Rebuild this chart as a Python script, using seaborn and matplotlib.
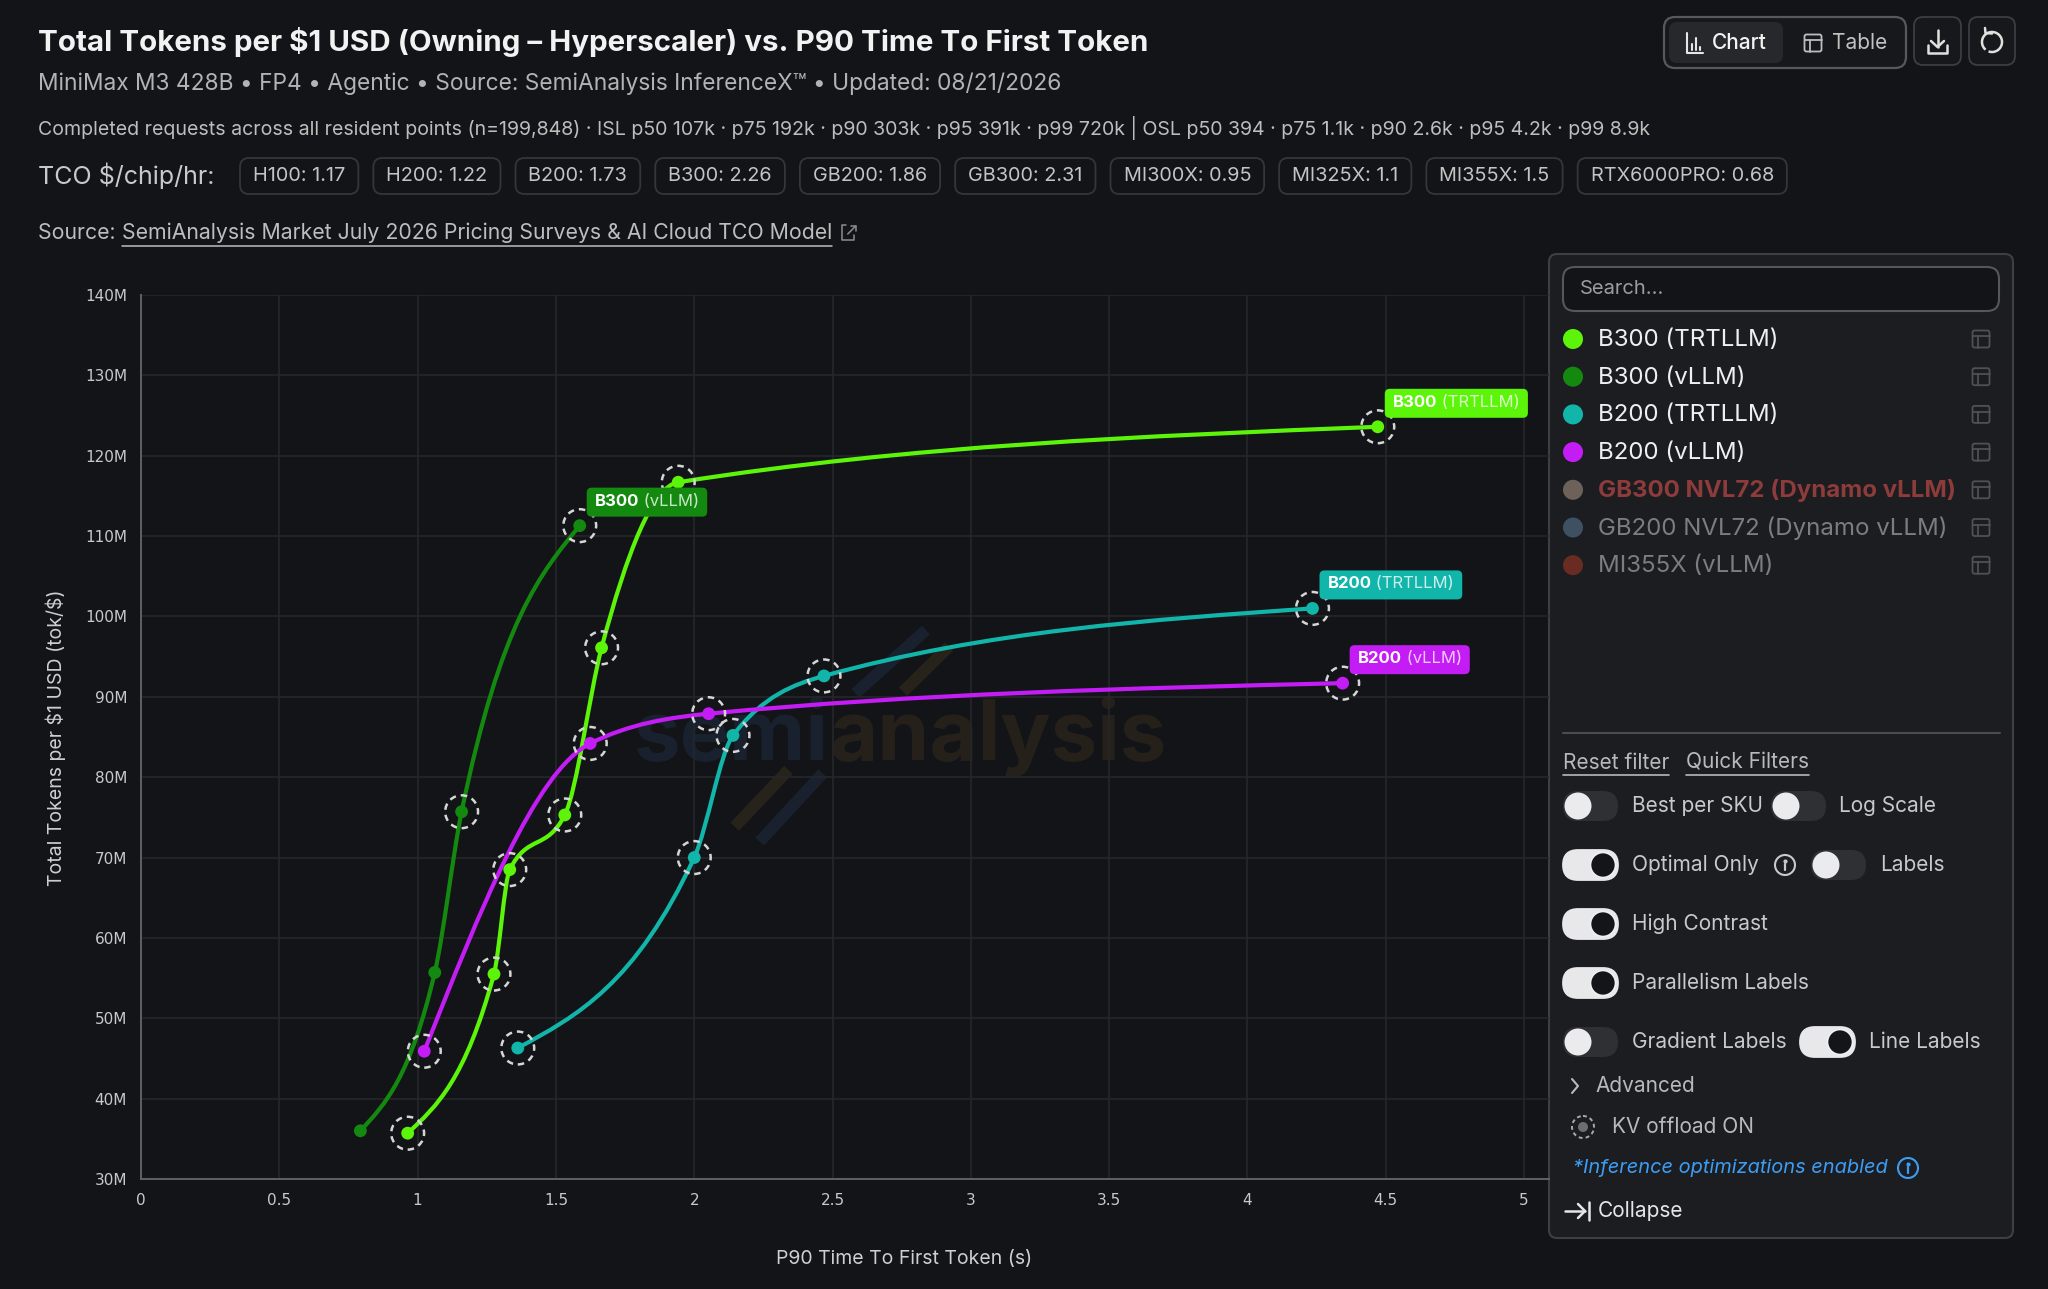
import numpy as np
import pandas as pd
import seaborn as sns
import matplotlib.pyplot as plt
from matplotlib.path import Path
from matplotlib.patches import PathPatch, FancyBboxPatch, Circle, Arc
from matplotlib.transforms import IdentityTransform
from matplotlib.ticker import FuncFormatter

# ---- values (x = P90 TTFT in s, y = tokens per $ in millions) ----
series_names = ["B300 (TRTLLM)", "B300 (vLLM)", "B200 (TRTLLM)", "B200 (vLLM)"]
series_colors = ["#5cf50a", "#138a0f", "#12b5a9", "#c41cf4"]

b300_trt_ttft = [0.964, 1.276, 1.333, 1.532, 1.665, 1.942, 4.471]
b300_trt_tok = [35.7, 55.5, 68.5, 75.3, 96.1, 116.7, 123.6]
b300_trt_kv = [1, 1, 1, 1, 1, 1, 1]

b300_vllm_ttft = [0.793, 1.062, 1.159, 1.586]
b300_vllm_tok = [36.0, 55.7, 75.7, 111.3]
b300_vllm_kv = [0, 0, 1, 1]

b200_trt_ttft = [1.362, 2.000, 2.140, 2.469, 4.235]
b200_trt_tok = [46.3, 70.0, 85.2, 92.6, 101.0]
b200_trt_kv = [1, 1, 1, 1, 1]

b200_vllm_ttft = [1.024, 1.624, 2.052, 4.344]
b200_vllm_tok = [45.9, 84.2, 87.9, 91.7]
b200_vllm_kv = [1, 1, 1, 1]

x_ticks = [0, 0.5, 1, 1.5, 2, 2.5, 3, 3.5, 4, 4.5, 5]
y_ticks = [30, 40, 50, 60, 70, 80, 90, 100, 110, 120, 130, 140]

tco_gpus = ["H100", "H200", "B200", "B300", "GB200", "GB300", "MI300X", "MI325X", "MI355X", "RTX6000PRO"]
tco_rates = [1.17, 1.22, 1.73, 2.26, 1.86, 2.31, 0.95, 1.1, 1.5, 0.68]

legend_names = series_names + ["GB300 NVL72 (Dynamo vLLM)", "GB200 NVL72 (Dynamo vLLM)", "MI355X (vLLM)"]
legend_dots = series_colors + ["#6d6259", "#3e5163", "#6a2b22"]
legend_text_colors = ["#efefef"] * 4 + ["#8e3b3b", "#7c7d80", "#7c7d80"]

title = "Total Tokens per $1 USD (Owning – Hyperscaler) vs. P90 Time To First Token"
subtitle = "MiniMax M3 428B • FP4 • Agentic • Source: SemiAnalysis InferenceX™ • Updated: 08/21/2026"
stats_line = ("Completed requests across all resident points (n=199,848) · ISL p50 107k · p75 192k · "
              "p90 303k · p95 391k · p99 720k | OSL p50 394 · p75 1.1k · p90 2.6k · p95 4.2k · p99 8.9k")

BG = "#131417"
PANEL = "#1c1d20"
W, H = 2048, 1289

sns.set_theme(style="dark", rc={
    "figure.facecolor": BG, "axes.facecolor": BG, "grid.color": "#25272b",
    "text.color": "#d0d0d0", "axes.labelcolor": "#cfcfcf",
    "xtick.color": "#c9c9c9", "ytick.color": "#c9c9c9",
})
plt.rcParams["font.family"] = ["Inter", "DejaVu Sans"]
plt.rcParams["text.parse_math"] = False

rows = []
for name, xs, ys, kv in [
    (series_names[0], b300_trt_ttft, b300_trt_tok, b300_trt_kv),
    (series_names[1], b300_vllm_ttft, b300_vllm_tok, b300_vllm_kv),
    (series_names[2], b200_trt_ttft, b200_trt_tok, b200_trt_kv),
    (series_names[3], b200_vllm_ttft, b200_vllm_tok, b200_vllm_kv),
]:
    for x, y, k in zip(xs, ys, kv):
        rows.append({"series": name, "ttft": x, "tok": y, "kv": k})
df = pd.DataFrame(rows)
palette = dict(zip(series_names, series_colors))


def monotone_path(xs, ys):
    # same shape as d3.curveMonotoneX: cubic bezier through the points
    xs = np.asarray(xs, float)
    ys = np.asarray(ys, float)
    n = len(xs)
    h = np.diff(xs)
    s = np.diff(ys) / h
    t = np.zeros(n)
    for i in range(1, n - 1):
        p = (s[i - 1] * h[i] + s[i] * h[i - 1]) / (h[i - 1] + h[i])
        t[i] = (np.sign(s[i - 1]) + np.sign(s[i])) * min(abs(s[i - 1]), abs(s[i]), 0.5 * abs(p))
    if n > 2:
        t[0] = (3 * s[0] - t[1]) / 2
        t[-1] = (3 * s[-1] - t[-2]) / 2
    else:
        t[:] = s[0]
    verts = [(xs[0], ys[0])]
    codes = [Path.MOVETO]
    for i in range(n - 1):
        dx = h[i] / 3
        verts += [(xs[i] + dx, ys[i] + dx * t[i]), (xs[i + 1] - dx, ys[i + 1] - dx * t[i + 1]), (xs[i + 1], ys[i + 1])]
        codes += [Path.CURVE4] * 3
    return Path(verts, codes)


fig = plt.figure(figsize=(W / 100, H / 100), dpi=100)
fig.patch.set_facecolor(BG)

ui = fig.add_axes([0, 0, 1, 1])
ui.set_xlim(0, W)
ui.set_ylim(H, 0)
ui.axis("off")
ui.set_zorder(0)

ax = fig.add_axes([141 / W, 1 - 1179 / H, (1549 - 141) / W, (1179 - 295) / H])
ax.set_zorder(2)
ax.patch.set_alpha(0)

# watermark
ax.text(0.4886, 0.474, "semi", transform=ax.transAxes, ha="right", va="baseline",
        fontsize=60, fontweight="bold", color="#19212e", zorder=0)
ax.text(0.4886, 0.474, "analysis", transform=ax.transAxes, ha="left", va="baseline",
        fontsize=60, fontweight="bold", color="#25211a", zorder=0)
for (x0, y0, x1, y1, c) in [(0.5074, 0.5494, 0.5575, 0.6210, "#19212e"), (0.5412, 0.5512, 0.5739, 0.6022, "#28231a"),
                            (0.4217, 0.3985, 0.4598, 0.4627, "#28231a"), (0.4394, 0.3816, 0.4842, 0.4589, "#19212e")]:
    ax.plot([x0, x1], [y0, y1], transform=ax.transAxes, color=c, lw=8.5, solid_capstyle="butt", zorder=0)

for name, color in zip(series_names, series_colors):
    sub = df[df.series == name]
    ax.add_patch(PathPatch(monotone_path(sub.ttft, sub.tok), fill=False, ec=color, lw=3.0,
                           capstyle="round", zorder=3))

sns.scatterplot(data=df, x="ttft", y="tok", hue="series", palette=palette, s=85,
                edgecolor="none", legend=False, ax=ax, zorder=5)
kv = df[df.kv == 1]
ax.scatter(kv.ttft, kv.tok, s=560, facecolors="none", edgecolors="#d6d6d6", linewidths=1.8,
           linestyles=(0, (2.6, 2.0)), zorder=6)

ax.set_xlim(0, 5.09)
ax.set_ylim(30, 140)
ax.set_xticks(x_ticks)
ax.set_yticks(y_ticks)
ax.xaxis.set_major_formatter(FuncFormatter(lambda v, p: f"{v:g}"))
ax.yaxis.set_major_formatter(FuncFormatter(lambda v, p: f"{v:.0f}M"))
ax.grid(True, color="#25272b", lw=1.2)
for sp in ["top", "right"]:
    ax.spines[sp].set_visible(False)
for sp in ["left", "bottom"]:
    ax.spines[sp].set_color("#5e6168")
    ax.spines[sp].set_linewidth(1.4)
ax.tick_params(axis="y", length=7, width=1.2, color="#5e6168", pad=3, labelsize=11)
ax.tick_params(axis="x", length=0, pad=10, labelsize=11)
for lab in ax.get_xticklabels() + ax.get_yticklabels():
    lab.set_fontfamily("DejaVu Sans")
ax.set_xlabel("")
ax.set_ylabel("")
ui.text(904, 1259, "P90 Time To First Token (s)", ha="center", va="center", fontsize=14, color="#cfcfcf")
ui.text(56, 738, "Total Tokens per $1 USD (tok/$)", ha="center", va="center", rotation=90,
        fontsize=14, color="#cfcfcf")

# ---- header ----
ui.text(38, 42, title, fontsize=21.3, fontweight="bold", color="#f2f2f2", va="center")
ui.text(38, 84, subtitle, fontsize=16.4, color="#b3b3b3", va="center")
ui.text(38, 128, stats_line, fontsize=14.1, color="#bdbdbd", va="center")
ui.text(38, 176, "TCO $/chip/hr:", fontsize=18, color="#c9c9c9", va="center")
src_a = ui.text(38, 233, "Source: ", fontsize=15.3, color="#bdbdbd", va="center")


def rbox(x0, y0, x1, y1, r, fc, ec, lw=1.3, z=1):
    ui.add_patch(FancyBboxPatch((x0, y0), x1 - x0, y1 - y0, boxstyle=f"round,pad=0,rounding_size={r}",
                                fc=fc, ec=ec, lw=lw, zorder=z))


def table_icon(cx, cy, s, c, lw=1.3):
    ui.add_patch(FancyBboxPatch((cx - s / 2, cy - s / 2), s, s, boxstyle="round,pad=0,rounding_size=2",
                                fc="none", ec=c, lw=lw, zorder=3))
    ui.plot([cx - s / 2, cx + s / 2], [cy - s / 6, cy - s / 6], color=c, lw=lw, zorder=3)
    ui.plot([cx - s / 6, cx - s / 6], [cy - s / 6, cy + s / 2], color=c, lw=lw, zorder=3)


def info_icon(cx, cy, r, c):
    ui.add_patch(Circle((cx, cy), r, fc="none", ec=c, lw=1.5, zorder=3))
    ui.plot([cx, cx], [cy - 1, cy + r * 0.5], color=c, lw=1.6, zorder=3)
    ui.plot([cx], [cy - r * 0.45], marker="o", ms=2, color=c, zorder=3)


def toggle(x, y, on):
    if on:
        rbox(x, y - 15, x + 55, y + 15, 15, "#e8e8ea", "#e8e8ea", z=2)
        ui.add_patch(Circle((x + 40, y), 12.5, fc="#141518", ec="#f0f0f0", lw=1.2, zorder=3))
    else:
        rbox(x, y - 15, x + 55, y + 15, 15, "#2f3034", "none", z=2)
        ui.add_patch(Circle((x + 15, y), 13.5, fc="#ebebed", ec="none", zorder=3))


# header buttons
rbox(1664, 17, 1906, 68, 11, "#17181b", "#55585e", lw=1.6)
rbox(1669, 22, 1783, 63, 8, "#27282c", "none", z=2)
ui.plot([1687, 1687, 1703], [33, 53, 53], color="#e6e6e6", lw=1.5, zorder=3)
for bx, by in [(1692, 44), (1696, 38), (1700, 47)]:
    ui.plot([bx, bx], [by, 50], color="#e6e6e6", lw=1.5, zorder=3)
ui.text(1712, 43, "Chart", fontsize=15, fontweight="medium", color="#f2f2f2", va="center", zorder=3)
table_icon(1813, 43, 17, "#bdbdbd")
ui.text(1832, 43, "Table", fontsize=15, color="#c2c2c2", va="center", zorder=3)
rbox(1914, 17, 1961, 65, 9, "#17181b", "#3c3e43")
ui.plot([1937.5, 1937.5], [30, 47], color="#e0e0e0", lw=1.8, zorder=3)
ui.plot([1931, 1937.5, 1944], [41, 47, 41], color="#e0e0e0", lw=1.8, zorder=3)
ui.plot([1928, 1928, 1947, 1947], [45, 53, 53, 45], color="#e0e0e0", lw=1.8, zorder=3)
rbox(1969, 17, 2015, 65, 9, "#17181b", "#3c3e43")
ui.add_patch(Arc((1992, 42), 20, 20, theta1=-230, theta2=110, color="#e0e0e0", lw=1.8, zorder=3))
ui.plot([1985, 1985.5, 1992], [28, 33, 33.5], color="#e0e0e0", lw=1.8, zorder=3)

# ---- side panel ----
rbox(1549, 254, 2013, 1238, 8, PANEL, "#3d3f44", lw=1.5)
rbox(1563, 267, 1999, 311, 12, "#131417", "#55575d", lw=1.5, z=2)
ui.text(1580, 289, "Search...", fontsize=14.5, color="#9d9d9f", va="center", zorder=3)
for i, (name, dc, tc) in enumerate(zip(legend_names, legend_dots, legend_text_colors)):
    yy = 339 + i * 37.7
    ui.add_patch(Circle((1573, yy), 10, fc=dc, ec="none", zorder=3))
    ui.text(1598, yy + 1, name, fontsize=17.3, color=tc, va="center", zorder=3,
            fontweight="bold" if i == 4 else "normal")
    table_icon(1981, yy, 17, "#4f5156")
ui.plot([1563, 2000], [733, 733], color="#4a4c51", lw=1.5, zorder=2)

reset_t = ui.text(1563, 763, "Reset filter", fontsize=15, color="#b9b9bb", va="center", zorder=3)
quick_t = ui.text(1686, 763, "Quick Filters", fontsize=15, color="#b9b9bb", va="center", zorder=3)

toggle(1563, 806, False)
ui.text(1632, 806, "Best per SKU", fontsize=15, color="#c9c9cb", va="center", zorder=3)
toggle(1771, 806, False)
ui.text(1839, 806, "Log Scale", fontsize=15, color="#c9c9cb", va="center", zorder=3)
toggle(1563, 865, True)
ui.text(1632, 865, "Optimal Only", fontsize=15, color="#c9c9cb", va="center", zorder=3)
info_icon(1785, 865, 10, "#c9c9cb")
toggle(1811, 865, False)
ui.text(1880, 865, "Labels", fontsize=15, color="#c9c9cb", va="center", zorder=3)
toggle(1563, 924, True)
ui.text(1632, 924, "High Contrast", fontsize=15, color="#c9c9cb", va="center", zorder=3)
toggle(1563, 983, True)
ui.text(1632, 983, "Parallelism Labels", fontsize=15, color="#c9c9cb", va="center", zorder=3)
toggle(1563, 1042, False)
ui.text(1632, 1042, "Gradient Labels", fontsize=15, color="#c9c9cb", va="center", zorder=3)
toggle(1800, 1042, True)
ui.text(1869, 1042, "Line Labels", fontsize=15, color="#c9c9cb", va="center", zorder=3)
ui.plot([1572, 1578, 1572], [1079, 1086, 1093], color="#b9b9bb", lw=1.5, zorder=3)
ui.text(1595, 1086, "Advanced", fontsize=15, color="#b9b9bb", va="center", zorder=3)
ui.add_patch(Circle((1583, 1127), 11, fc="none", ec="#a9a9ab", lw=1.4, ls=(0, (2, 1.6)), zorder=3))
ui.add_patch(Circle((1583, 1127), 5, fc="#6c6d70", ec="none", zorder=3))
ui.text(1612, 1127, "KV offload ON", fontsize=15, color="#b9b9bb", va="center", zorder=3)
ui.text(1573, 1168, "*Inference optimizations enabled", fontsize=14.4, color="#3d9df5", style="italic",
        va="center", zorder=3)
info_icon(1908, 1168, 10, "#3d9df5")
ui.plot([1565, 1585], [1211, 1211], color="#e6e6e6", lw=1.8, zorder=3)
ui.plot([1578, 1585, 1578], [1204, 1211, 1218], color="#e6e6e6", lw=1.8, zorder=3)
ui.plot([1589, 1589], [1202, 1220], color="#e6e6e6", lw=1.8, zorder=3)
ui.text(1598, 1211, "Collapse", fontsize=15, color="#e6e6e6", va="center", zorder=3)

# ---- second pass: things that depend on measured text widths ----
fig.canvas.draw()
r = fig.canvas.get_renderer()

# TCO chips laid out left to right
cx = 240
for g, v in zip(tco_gpus, tco_rates):
    t = ui.text(cx + 13, 176, f"{g}: {v:g}", fontsize=14.3, color="#c4c4c4", va="center", zorder=3)
    w = t.get_window_extent(r).width
    rbox(cx, 158, cx + w + 26, 194, 9, "none", "#34363b", lw=1.3)
    cx += w + 26 + 15

# source link with underline and link icon
x0 = src_a.get_window_extent(r).x1
link = ui.text(x0, 233, "SemiAnalysis Market July 2026 Pricing Surveys & AI Cloud TCO Model", fontsize=15.3,
               color="#bdbdbd", va="center")
lw_ = link.get_window_extent(r).width
ui.plot([x0, x0 + lw_], [246, 246], color="#bdbdbd", lw=1.1)
ix = x0 + lw_ + 10
ui.plot([ix + 4, ix, ix, ix + 12, ix + 12], [225, 225, 240, 240, 235], color="#8d8d8f", lw=1.1)
ui.plot([ix + 6, ix + 14], [234, 226], color="#8d8d8f", lw=1.1)
ui.plot([ix + 9, ix + 14, ix + 14], [226, 226, 231], color="#8d8d8f", lw=1.1)

for t in (reset_t, quick_t):
    e = t.get_window_extent(r)
    ui.plot([e.x0, e.x1], [775, 775], color="#b9b9bb", lw=1.2, zorder=3)

# end-of-line labels
label_pairs = []
for name, color in zip(series_names, series_colors):
    sub = df[df.series == name]
    xe, ye = sub.ttft.iloc[-1], sub.tok.iloc[-1]
    chip, engine = name.split(" ", 1)
    a = ax.annotate(chip, xy=(xe, ye), xytext=(15, 17), textcoords="offset pixels", ha="left", va="bottom",
                    fontsize=12, fontweight="bold", color="white", zorder=8)
    b = ax.annotate(" " + engine, xy=(1, 0), xycoords=a, ha="left", va="bottom", fontsize=12,
                    color="white", alpha=0.78, zorder=8)
    label_pairs.append((a, b, color))
fig.canvas.draw()
for a, b, color in label_pairs:
    ea, eb = a.get_window_extent(r), b.get_window_extent(r)
    x0, x1 = ea.x0 - 8, eb.x1 + 8
    y0, y1 = min(ea.y0, eb.y0) - 8, max(ea.y1, eb.y1) + 6
    ax.add_patch(FancyBboxPatch((x0, y0), x1 - x0, y1 - y0, boxstyle="round,pad=0,rounding_size=5",
                                transform=IdentityTransform(), fc=color, ec="none", zorder=7, clip_on=False))

fig.savefig("out.png", dpi=100, facecolor=BG)
